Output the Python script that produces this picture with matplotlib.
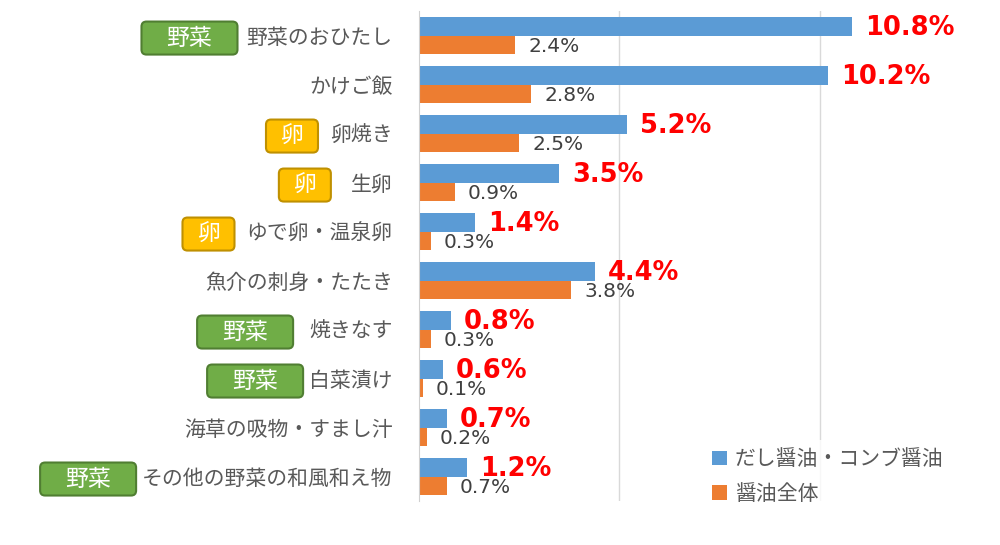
import matplotlib
matplotlib.use("Agg")
import matplotlib.pyplot as plt
from matplotlib.patches import FancyBboxPatch
import numpy as np

plt.rcParams['font.family'] = ['Noto Sans CJK JP', 'DejaVu Sans']

# data (percent)
categories = ['野菜のおひたし', 'かけご飯', '卵焼き', '生卵', 'ゆで卵・温泉卵',
              '魚介の刺身・たたき', '焼きなす', '白菜漬け', '海草の吸物・すまし汁',
              'その他の野菜の和風和え物']
dashi = [10.8, 10.2, 5.2, 3.5, 1.4, 4.4, 0.8, 0.6, 0.7, 1.2]
overall = [2.4, 2.8, 2.5, 0.9, 0.3, 3.8, 0.3, 0.1, 0.2, 0.7]
series_names = ['だし醤油・コンブ醤油', '醤油全体']
badges = ['野菜', None, '卵', '卵', '卵', None, '野菜', '野菜', None, '野菜']
badge_gap = [9, 0, 12, 20, 12, 0, 16, 6, 0, 6]   # px between badge and label

blue = '#5B9BD5'
orange = '#ED7D31'
badge_style = {'野菜': ('#70AD47', '#507E32', 96),
               '卵': ('#FFC000', '#BF9000', 52)}

fig = plt.figure(figsize=(10, 5.45), dpi=100)
ax = fig.add_axes([0.419, 0.0807, 0.581, 0.899])

y = np.arange(len(categories))
h = 0.38
ax.barh(y - h / 2, dashi, height=h, color=blue, zorder=2)
ax.barh(y + h / 2, overall, height=h, color=orange, zorder=2)

ax.set_xlim(0, 14.5)
ax.set_ylim(len(categories) - 0.5, -0.5)
ax.set_xticks([5, 10])
ax.set_xticklabels([])
ax.tick_params(axis='x', length=0)
ax.grid(axis='x', color='#D9D9D9', lw=1, zorder=0)
ax.set_yticks(y)
ax.set_yticklabels(categories, fontsize=15, color='#595959')
ax.tick_params(axis='y', length=0, pad=19)
for s in ['top', 'right', 'bottom']:
    ax.spines[s].set_visible(False)
ax.spines['left'].set_color('#D0D0D0')

# value labels
for i in range(len(categories)):
    ax.annotate(f'{dashi[i]:.1f}%', (dashi[i], y[i] - h / 2), xytext=(13, -2),
                textcoords='offset pixels', va='center', ha='left',
                fontsize=18.5, fontweight='bold', color='#FF0000',
                family='DejaVu Sans', zorder=4)
    ax.annotate(f'{overall[i]:.1f}%', (overall[i], y[i] + h / 2), xytext=(13, -2),
                textcoords='offset pixels', va='center', ha='left',
                fontsize=14.5, color='#404040', family='DejaVu Sans', zorder=4)

leg = ax.legend(series_names, loc='lower left', bbox_to_anchor=(0.49, -0.025),
                frameon=True, fontsize=15, handlelength=0.7, handleheight=0.7,
                handletextpad=0.4, labelspacing=0.6, borderaxespad=0)
leg.get_frame().set_facecolor('white')
leg.get_frame().set_edgecolor('none')
leg.set_zorder(5)
for t in leg.get_texts():
    t.set_color('#595959')

# category badges next to the tick labels
fig.canvas.draw()
renderer = fig.canvas.get_renderer()
for lab, b, gap in zip(ax.get_yticklabels(), badges, badge_gap):
    if b is None:
        continue
    bb = lab.get_window_extent(renderer)
    fc, ec, w = badge_style[b]
    bh = 33
    cy = (bb.y0 + bb.y1) / 2
    x1 = bb.x0 - gap
    patch = FancyBboxPatch((x1 - w, cy - bh / 2), w, bh,
                           boxstyle='round,pad=0,rounding_size=5',
                           fc=fc, ec=ec, lw=1.5, transform=None)
    fig.patches.append(patch)
    fig.text((x1 - w / 2) / 1000, cy / 545, b, ha='center', va='center',
             fontsize=16.5, color='white')

fig.savefig('out.png', dpi=100)
